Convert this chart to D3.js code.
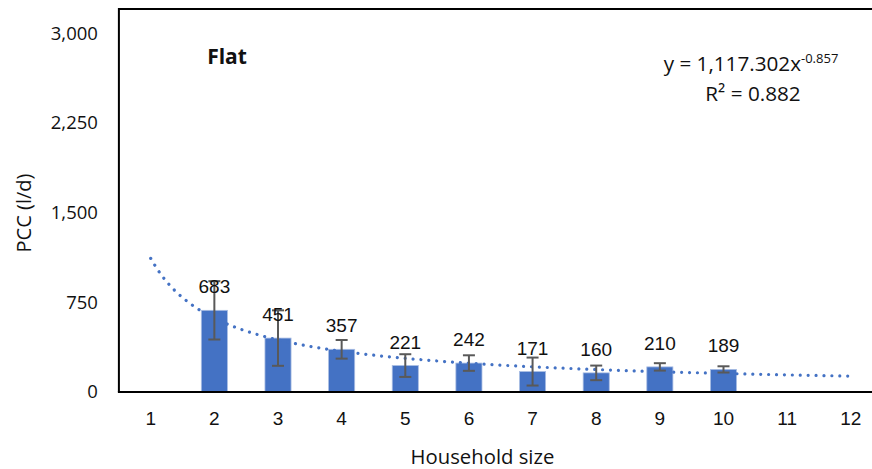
<!DOCTYPE html>
<html>
<head>
<meta charset="utf-8">
<script src="https://cdn.jsdelivr.net/npm/d3@7"></script>
<style>
  html, body { margin: 0; padding: 0; background: #fff; }
  svg { display: block; }
</style>
</head>
<body>
<svg id="chart" width="872" height="469"></svg>
<script>
// ---- Data ----
const categories = [1, 2, 3, 4, 5, 6, 7, 8, 9, 10, 11, 12];
const barSizes   = [2, 3, 4, 5, 6, 7, 8, 9, 10];
const pccValues  = [683, 451, 357, 221, 242, 171, 160, 210, 189];
const errValues  = [244, 232, 78, 95, 65, 117, 61, 31, 26];
const yTicks     = [0, 750, 1500, 2250, 3000];
const trendCoef  = 1117.302;
const trendExp   = -0.857;
const rSquared   = "0.882";
const panelTitle = "Flat";
const xTitle     = "Household size";
const yTitle     = "PCC (l/d)";

(function () {
// ---- Layout ----
const svg = d3.select("#chart");
const pLeft = 118.9, pRight = 882.6, pTop = 9, pBottom = 392;
const yTop = 33.3;

const x = d3.scaleBand()
  .domain(categories)
  .range([pLeft, pRight])
  .paddingInner(0.59)
  .paddingOuter(0.295);
const xc = v => x(v) + x.bandwidth() / 2;
const step = x.step();
const xLin = v => xc(1) + (v - 1) * step;

const y = d3.scaleLinear().domain([0, 3000]).range([pBottom, yTop]);

const blue = "#4472C4";
const sans = "'Open Sans', sans-serif";
const arial = "'Liberation Sans', Arial, sans-serif";

// Bars
svg.append("g").selectAll("rect")
  .data(barSizes.map((s, i) => ({ s, v: pccValues[i] })))
  .join("rect")
  .attr("x", d => x(d.s))
  .attr("y", d => y(d.v))
  .attr("width", x.bandwidth())
  .attr("height", d => y(0) - y(d.v))
  .attr("fill", blue)
  .attr("stroke", "#a9bde3")
  .attr("stroke-width", 0.8);

// Trendline (from displayed equation)
const tPts = d3.range(1, 12.0001, 0.05).map(v => [xLin(v), y(trendCoef * Math.pow(v, trendExp))]);
svg.append("path")
  .attr("d", d3.line()(tPts))
  .attr("fill", "none")
  .attr("stroke", blue)
  .attr("stroke-width", 3.2)
  .attr("stroke-linecap", "round")
  .attr("stroke-dasharray", "0.01 7.9");

// Error bars
const eb = svg.append("g").attr("stroke", "#595959").attr("stroke-width", 2).attr("fill", "none");
barSizes.forEach((s, i) => {
  const cx = xc(s), hi = y(pccValues[i] + errValues[i]), lo = y(pccValues[i] - errValues[i]);
  eb.append("line").attr("x1", cx).attr("x2", cx).attr("y1", hi).attr("y2", lo);
  eb.append("line").attr("x1", cx - 6).attr("x2", cx + 6).attr("y1", hi).attr("y2", hi);
  eb.append("line").attr("x1", cx - 6).attr("x2", cx + 6).attr("y1", lo).attr("y2", lo);
});

// Data labels
svg.append("g").selectAll("text")
  .data(barSizes.map((s, i) => ({ s, v: pccValues[i] })))
  .join("text")
  .attr("x", d => xc(d.s))
  .attr("y", d => y(d.v) - 17)
  .attr("text-anchor", "middle")
  .attr("font-family", arial)
  .attr("font-size", 19)
  .attr("fill", "#111")
  .text(d => d.v);

// Frame (plot area border)
svg.append("path")
  .attr("d", `M${pLeft},${pBottom}V${pTop}H${pRight + 2}`)
  .attr("fill", "none").attr("stroke", "#000").attr("stroke-width", 2);
svg.append("line")
  .attr("x1", pLeft - 1).attr("x2", pRight + 2).attr("y1", pBottom).attr("y2", pBottom)
  .attr("stroke", "#000").attr("stroke-width", 2);

// Axes
const xAxis = svg.append("g").attr("transform", `translate(0,${pBottom})`)
  .call(d3.axisBottom(x).tickSize(0).tickPadding(19.5));
xAxis.select(".domain").remove();
xAxis.selectAll("text").attr("font-family", arial).attr("font-size", 19).attr("fill", "#111");

const yAxis = svg.append("g").attr("transform", `translate(${pLeft},0)`)
  .call(d3.axisLeft(y).tickValues(yTicks).tickFormat(d3.format(",")).tickSize(0).tickPadding(21));
yAxis.select(".domain").remove();
yAxis.selectAll("text").attr("font-family", sans).attr("font-size", 18.5).attr("fill", "#111");

// Titles
svg.append("text").attr("x", 482.5).attr("y", 464).attr("text-anchor", "middle")
  .attr("font-family", sans).attr("font-size", 20.3).attr("fill", "#111").text(xTitle);
svg.append("text").attr("transform", "translate(31,213) rotate(-90)").attr("text-anchor", "middle")
  .attr("font-family", sans).attr("font-size", 20).attr("fill", "#111").text(yTitle);

svg.append("text").attr("x", 227).attr("y", 64).attr("text-anchor", "middle")
  .attr("font-family", sans).attr("font-weight", "bold").attr("font-size", 21).attr("fill", "#111").text(panelTitle);

// Equation
const eq = svg.append("text").attr("x", 751).attr("y", 71).attr("text-anchor", "middle")
  .attr("font-family", sans).attr("font-size", 20.7).attr("fill", "#111");
eq.append("tspan").text("y = " + d3.format(",.3f")(trendCoef) + "x");
eq.append("tspan").attr("dy", -8).attr("font-size", 13).text(trendExp.toFixed(3));
svg.append("text").attr("x", 753).attr("y", 101).attr("text-anchor", "middle")
  .attr("font-family", sans).attr("font-size", 20.7).attr("fill", "#111").text("R² = " + rSquared);
})();
</script>
</body>
</html>
